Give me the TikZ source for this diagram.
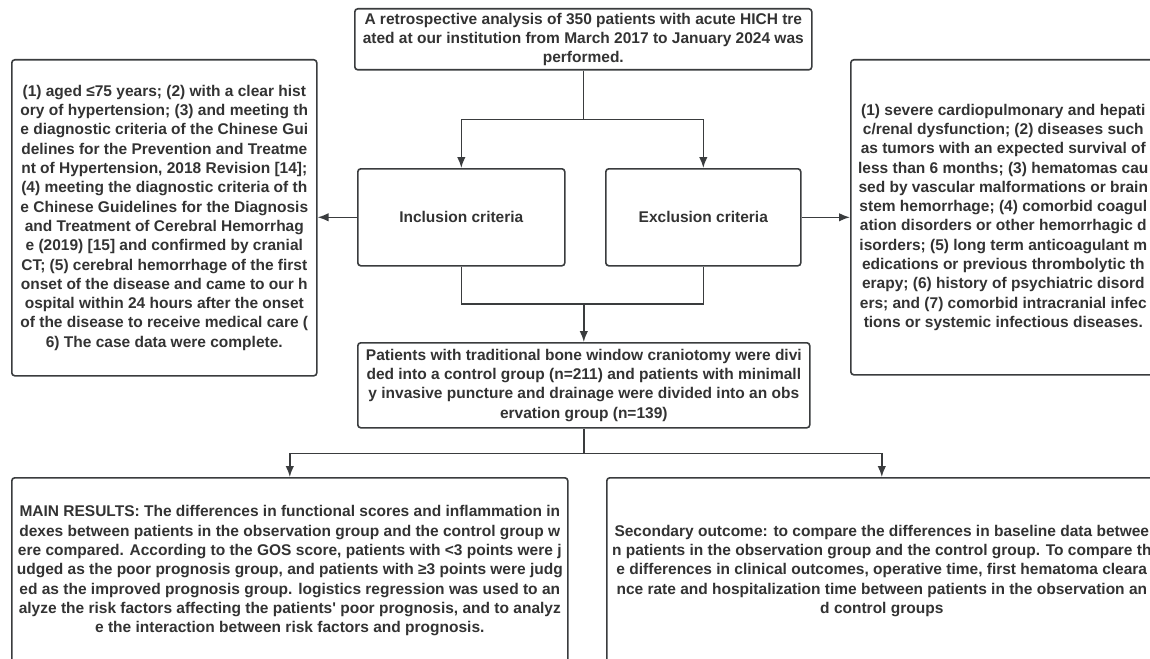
\documentclass[tikz,border=0pt]{standalone}
\usepackage{fontspec}
\setmainfont{Liberation Sans}
\usepackage{xcolor}
\usetikzlibrary{arrows.meta, calc}

\definecolor{linec}{HTML}{3A3C3E}
\definecolor{textc}{HTML}{333333}

\newcommand{\boxfont}{\fontsize{15.5}{19.3}\selectfont\bfseries}

\tikzset{
    box/.style={draw=linec, line width=1.6pt, rounded corners=3pt, fill=white,
        align=center, text=textc, font=\boxfont, inner sep=0pt, anchor=north west},
    link/.style={draw=linec, line width=1.6pt},
    arr/.style={link, -{Latex[length=11pt, width=8.5pt]}},
}

\begin{document}
\begin{tikzpicture}[x=1pt, y=-1pt]
    \fill[white] (0,0) rectangle (1150,658);
    \useasboundingbox (0,0) rectangle (1150,658);
    \clip (0,0) rectangle (1150,658);

    \node[box, minimum width=457pt, minimum height=61pt] (start) at (354,8)
        {A retrospective analysis of 350 patients with acute HICH tre\\
         ated at our institution from March 2017 to January 2024 was\\
         performed.};

    \node[box, minimum width=207pt, minimum height=97pt] (inc) at (357,168) {Inclusion criteria};
    \node[box, minimum width=195pt, minimum height=97pt] (exc) at (605,168) {Exclusion criteria};

    \node[box, minimum width=305pt, minimum height=316pt] (incl) at (11,59)
        {(1) aged ≤75 years; (2) with a clear hist\\
         ory of hypertension; (3) and meeting th\\
         e diagnostic criteria of the Chinese Gui\\
         delines for the Prevention and Treatme\\
         nt of Hypertension, 2018 Revision [14];\\
         (4) meeting the diagnostic criteria of th\\
         e Chinese Guidelines for the Diagnosis\\
         and Treatment of Cerebral Hemorrhag\\
         e (2019) [15] and confirmed by cranial\\
         CT; (5) cerebral hemorrhage of the first\\
         onset of the disease and came to our h\\
         ospital within 24 hours after the onset\\
         of the disease to receive medical care (\\
         6) The case data were complete.};

    \node[box, minimum width=305pt, minimum height=315pt] (excl) at (850,59)
        {(1) severe cardiopulmonary and hepati\\
         c/renal dysfunction; (2) diseases such\\
         as tumors with an expected survival of\\
         less than 6 months; (3) hematomas cau\\
         sed by vascular malformations or brain\\
         stem hemorrhage; (4) comorbid coagul\\
         ation disorders or other hemorrhagic d\\
         isorders; (5) long term anticoagulant m\\
         edications or previous thrombolytic th\\
         erapy; (6) history of psychiatric disord\\
         ers; and (7) comorbid intracranial infec\\
         tions or systemic infectious diseases.};

    \node[box, minimum width=452pt, minimum height=85pt] (groups) at (357,342)
        {Patients with traditional bone window craniotomy were divi\\
         ded into a control group (n=211) and patients with minimall\\
         y invasive puncture and drainage were divided into an obs\\
         ervation group (n=139)};

    \node[box, minimum width=556pt, minimum height=186pt] (main) at (11,477)
        {MAIN RESULTS: The differences in functional scores and inflammation in\\
         dexes between patients in the observation group and the control group w\\
         ere compared. According to the GOS score, patients with <3 points were j\\
         udged as the poor prognosis group, and patients with ≥3 points were judg\\
         ed as the improved prognosis group. logistics regression was used to an\\
         alyze the risk factors affecting the patients\textquotesingle{} poor prognosis, and to analyz\\
         e the interaction between risk factors and prognosis.};

    \node[box, minimum width=550pt, minimum height=186pt] (second) at (606,477)
        {Secondary outcome: to compare the differences in baseline data betwee\\
         n patients in the observation group and the control group. To compare th\\
         e differences in clinical outcomes, operative time, first hematoma cleara\\
         nce rate and hospitalization time between patients in the observation an\\
         d control groups};

    % split to the two criteria
    \path (start.south) ++(0,49) coordinate (split);
    \draw[link] (start.south) -- (split);
    \draw[arr] (split) -| (inc.north);
    \draw[arr] (split) -| (exc.north);

    \draw[arr] (inc.west) -- (incl.east |- inc.west);
    \draw[arr] (exc.east) -- (excl.west |- exc.east);

    % join into the groups
    \path (groups.north) ++(0,-38) coordinate (join);
    \draw[link] (inc.south) |- (join) -| (exc.south);
    \draw[arr] (join) -- (groups.north);

    % outcomes
    \path (groups.south) ++(0,25) coordinate (fork);
    \draw[link] (groups.south) -- (fork);
    \draw[arr] (fork) -| (main.north);
    \draw[arr] (fork) -| (second.north);
\end{tikzpicture}
\end{document}
